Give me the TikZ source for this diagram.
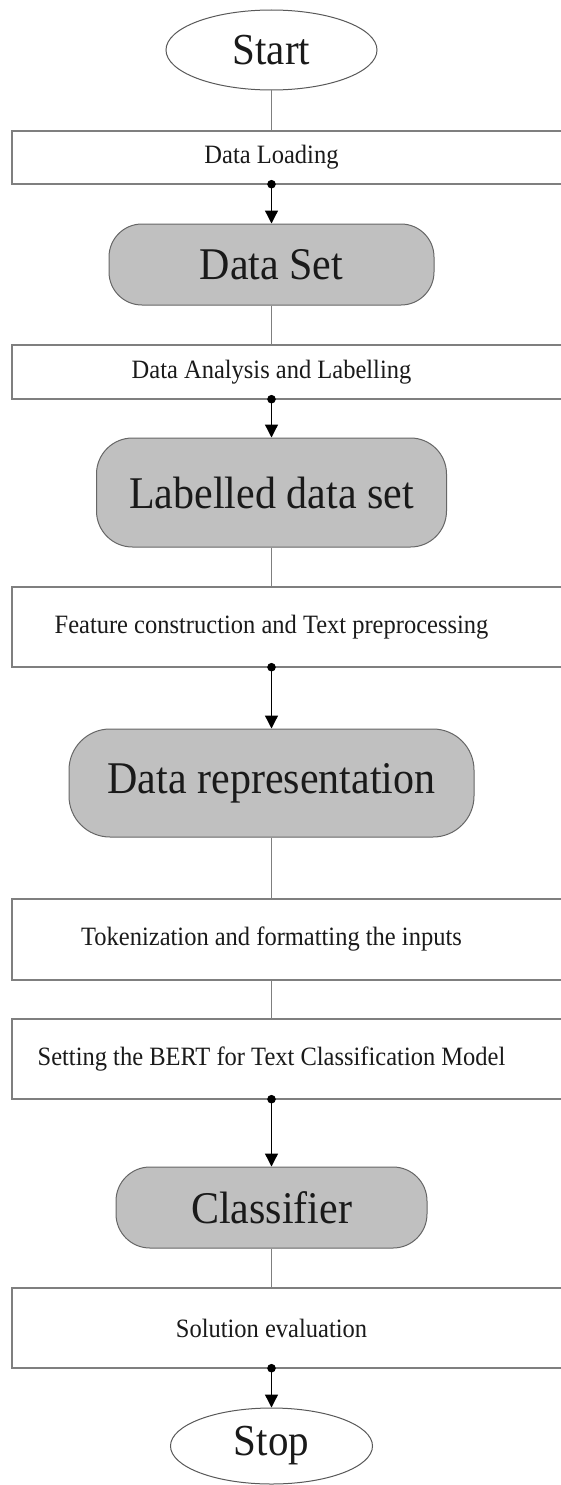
\documentclass[tikz,border=0pt]{standalone}
\usepackage{fontspec}
\usepackage{graphicx}
\setmainfont{Liberation Serif}
\usetikzlibrary{shapes.geometric,arrows.meta}

\definecolor{edgegray}{HTML}{7F7F7F}
\definecolor{boxfill}{HTML}{C0C0C0}
\definecolor{ink}{HTML}{1A1A1A}

% slightly taller lettering
\newcommand\tallText[1]{\scalebox{1}[1.08]{#1}}

\tikzset{
  terminal/.style={ellipse, draw=edgegray!70!black, line width=1pt, fill=white,
    inner sep=0pt, minimum width=211pt, minimum height=80pt,
    font=\fontsize{41}{41}\selectfont, text=ink},
  dataobj/.style={rectangle, draw=edgegray!80!black, line width=1pt, fill=boxfill,
    inner sep=0pt, font=\fontsize{42}{42}\selectfont, text=ink},
  stage/.style={rectangle, inner sep=0pt, minimum width=519pt,
    font=\fontsize{24.5}{24.5}\selectfont, text=ink},
  stageframe/.style={draw=edgegray, line width=1.6pt},
  link/.style={draw=edgegray, line width=1.2pt},
  flow/.style={draw=black, line width=1.3pt, -{Triangle[width=13pt,length=13pt]}},
  joint/.style={fill=black},
}

\begin{document}
\begin{tikzpicture}[x=1pt,y=-1pt]
  \useasboundingbox (0,0) rectangle (561,1485);
  \clip (0,0) rectangle (561,1485);
  \fill[white] (0,0) rectangle (561,1485);

  % nodes of the pipeline, top to bottom
  \node[terminal] (start) at (271.5,50) {\tallText{Start}};
  \node[stage, minimum height=53pt] (load) at (271.5,157.5) {\tallText{Data Loading}};
  \node[dataobj, minimum width=325pt, minimum height=81pt, rounded corners=33pt]
    (dataset) at (271.5,264.5) {\tallText{Data Set}};
  \node[stage, minimum height=54pt] (analyse) at (271.5,372)
    {\tallText{Data Analysis and Labelling}};
  \node[dataobj, minimum width=350pt, minimum height=109pt, rounded corners=36pt]
    (labelled) at (271.5,492.5) {\tallText{Labelled data set}};
  \node[stage, minimum height=80pt] (feature) at (271.5,627)
    {\tallText{Feature construction and Text preprocessing}};
  \node[dataobj, minimum width=405pt, minimum height=108pt, rounded corners=41pt]
    (represent) at (271.5,783) {\tallText{Data representation}};
  \node[stage, minimum height=81pt] (token) at (271.5,939.5)
    {\tallText{Tokenization and formatting the inputs}};
  \node[stage, minimum height=80pt] (bert) at (271.5,1059)
    {\tallText{Setting the BERT for Text Classification Model}};
  \node[dataobj, minimum width=311pt, minimum height=81pt, rounded corners=34pt]
    (classifier) at (271.5,1207.5) {\tallText{Classifier}};
  \node[stage, minimum height=80pt] (evaluate) at (271.5,1328)
    {\tallText{Solution evaluation}};
  \node[terminal, minimum width=202pt, minimum height=76pt] (stop) at (271.5,1446)
    {\tallText{Stop}};

  % process frames run off the right-hand side
  \foreach \n in {load,analyse,feature,token,bert,evaluate}
    \draw[stageframe] (\n.north west) rectangle ([xshift=80pt]\n.south east);

  % plain connectors
  \draw[link] (start.south) -- (load.north);
  \draw[link] (dataset.south) -- (analyse.north);
  \draw[link] (labelled.south) -- (feature.north);
  \draw[link] (represent.south) -- (token.north);
  \draw[link] (token.south) -- (bert.north);
  \draw[link] (classifier.south) -- (evaluate.north);

  % output arrows with a joint dot
  \foreach \a/\b in {load/dataset,analyse/labelled,feature/represent,bert/classifier,evaluate/stop}{
    \draw[flow] (\a.south) -- (\b.north);
    \fill[joint] (\a.south) circle (4.3pt);
  }
\end{tikzpicture}
\end{document}
